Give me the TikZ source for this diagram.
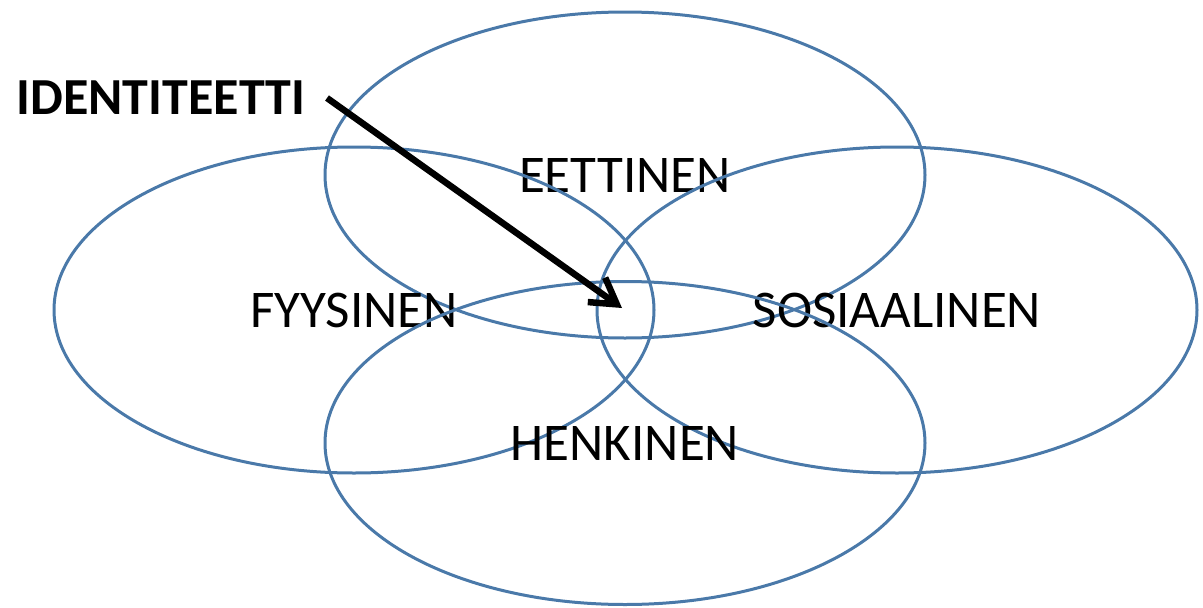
\documentclass[tikz,border=0pt]{standalone}
\usepackage{fontspec}
\setmainfont{Carlito}
\usetikzlibrary{arrows.meta, shapes.geometric}
\definecolor{cring}{HTML}{4A79A9}
\tikzset{
  every picture/.style={x=1pt, y=-1pt},
  ring/.style={ellipse, draw=cring, line width=3pt, minimum width=600pt, minimum height=#1, inner sep=0pt, font=\fontsize{53}{62}\selectfont},
  ring/.default=326pt,
  arrow/.style={-{Straight Barb[length=25pt, width=30pt]}, line width=6.5pt, draw=black},
  title/.style={font=\bfseries\fontsize{52}{62}\selectfont, inner sep=0pt, outer xsep=22pt},
}
\begin{document}
\begin{tikzpicture}
  \useasboundingbox (0,0) rectangle (1203,608);
  % the four rings
  \node[ring] (ethic) at (625,175) {EETTINEN};
  \node[ring] (phys) at (354,310) {FYYSINEN};
  \node[ring] (social) at (897,310) {SOSIAALINEN};
  \node[ring=323pt] (mental) at (625,443) {HENKINEN};
  % identity in the middle
  \coordinate (core) at (622,308);
  \node[title, anchor=east] (ident) at (327,98) {IDENTITEETTI};
  \draw[arrow] (ident.east) -- (core);
\end{tikzpicture}
\end{document}
